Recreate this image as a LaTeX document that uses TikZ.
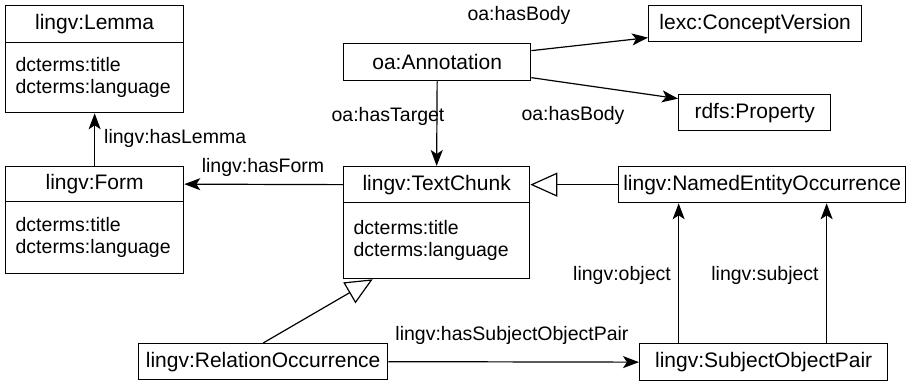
\documentclass[tikz,border=0pt]{standalone}
\usepackage{fontspec}
\setmainfont{Liberation Sans}
\usetikzlibrary{arrows.meta}
\begin{document}
\begin{tikzpicture}[x=1pt,y=-1pt,
  every node/.style={font=\fontsize{19.5}{22.5}\selectfont},
  box/.style={draw,line width=1.3pt,inner sep=0pt,anchor=north west,align=center,font=\fontsize{21}{24}\selectfont},
  attr/.style={draw,line width=1.3pt,inner xsep=10pt,inner ysep=0pt,anchor=north west,align=left},
  lbl/.style={inner sep=0pt},
  assoc/.style={line width=1.2pt,-{Stealth[length=16pt,width=12pt,inset=4pt]}},
  gen/.style={line width=1.2pt,-{Triangle[open,length=27pt,width=24pt,line width=1.2pt]}}]
\useasboundingbox (0,0) rectangle (910,382);
% class boxes
\node[box,minimum width=178pt,minimum height=37pt] (lemma) at (5,5) {lingv:Lemma};
\node[attr,minimum width=178pt,minimum height=70pt,text width=158pt] (lemmaA) at (5,42) {\rule{0pt}{6pt}dcterms:title\\dcterms:language};
\node[box,minimum width=178pt,minimum height=35pt] (form) at (5,166) {lingv:Form};
\node[attr,minimum width=178pt,minimum height=72pt,text width=158pt] (formA) at (5,201) {\rule{0pt}{6pt}dcterms:title\\dcterms:language};
\node[box,minimum width=186pt,minimum height=36pt] (tc) at (343,166) {lingv:TextChunk};
\node[attr,minimum width=186pt,minimum height=76pt,text width=166pt] (tcA) at (343,202) {dcterms:title\\dcterms:language\\[14pt]};
\node[box,minimum width=187pt,minimum height=37pt] (ann) at (343,43) {oa:Annotation};
\node[box,minimum width=213pt,minimum height=36pt] (lexc) at (648,5) {lexc:ConceptVersion};
\node[box,minimum width=152pt,minimum height=36pt] (rdfs) at (678,94) {rdfs:Property};
\node[box,minimum width=287pt,minimum height=36pt] (neo) at (618,166) {lingv:NamedEntityOccurrence};
\node[box,minimum width=248pt,minimum height=37pt] (sop) at (639,343) {lingv:SubjectObjectPair};
\node[box,minimum width=249pt,minimum height=36pt] (ro) at (138,343) {lingv:RelationOccurrence};
% connectors
\draw[assoc] (form.north) -- (lemmaA.south);
\draw[assoc] (tc.west) -- (form.east);
\draw[assoc] (ann.south) -- (tc.north);
\draw[assoc] ([yshift=11.5pt]ann.east) -- ([yshift=-14pt]lexc.west);
\draw[assoc] ([yshift=-15.5pt]ann.east) -- ([yshift=14pt]rdfs.west);
\draw[gen] (neo.west) -- (tc.east);
\draw[gen] (ro.north) -- ([xshift=-64pt]tcA.south);
\draw[assoc] (ro.east) -- (sop.west);
\coordinate (ob) at ([xshift=-85pt]sop.north);
\coordinate (sb) at ([xshift=63pt]sop.north);
\draw[assoc] (ob) -- (ob |- neo.south);
\draw[assoc] (sb) -- (sb |- neo.south);
% labels
\node[lbl,anchor=west] (lHL) at (104,138) {lingv:hasLemma};
\node[lbl] (lHF) at (263,167) {lingv:hasForm};
\node[lbl] (lHT) at (388,116) {oa:hasTarget};
\node[lbl] (lB1) at (519,15) {oa:hasBody};
\node[lbl] (lB2) at (573,115) {oa:hasBody};
\node[lbl] (lOb) at (622,275) {lingv:object};
\node[lbl] (lSb) at (765,275) {lingv:subject};
\node[lbl] (lSOP) at (512,335) {lingv:hasSubjectObjectPair};
\end{tikzpicture}
\end{document}
